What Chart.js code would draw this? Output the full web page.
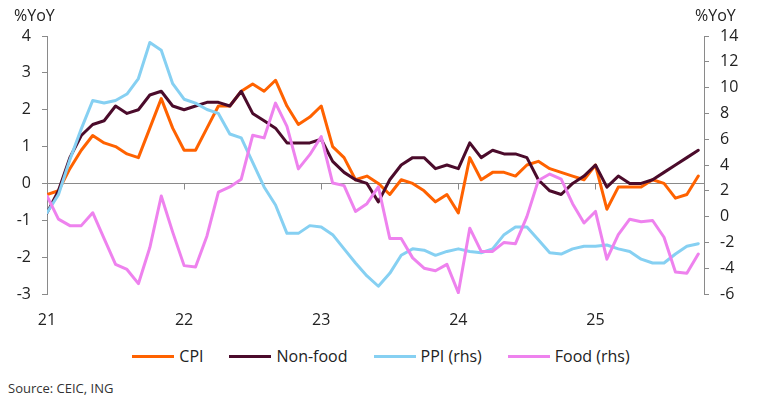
<!DOCTYPE html>
<html>
<head>
<meta charset="utf-8">
<script src="https://cdn.jsdelivr.net/npm/chart.js@4/dist/chart.umd.min.js"></script>
<style>
  html, body { margin: 0; padding: 0; background: #fff; }
  #wrap { position: relative; width: 762px; height: 399px; overflow: hidden; font-family: "Open Sans", sans-serif; color: #222; }
  #c { position: absolute; left: 0; top: 0; }
  .unit { position: absolute; top: 5px; font-size: 16px; line-height: 20px; color: #222; }
  #legend { position: absolute; left: 0; width: 762px; top: 346px; display: flex; justify-content: center; align-items: center; font-size: 16px; line-height: 20px; }
  .item { display: flex; align-items: center; margin: 0 13px; }
  .swatch { width: 42px; height: 3px; margin-right: 5px; }
  #source { position: absolute; left: 8px; top: 379px; font-size: 13px; line-height: 18px; color: #333; }
</style>
</head>
<body>
<div id="wrap">
  <canvas id="c" width="762" height="335"></canvas>
  <div class="unit" style="left:14px;">%YoY</div>
  <div class="unit" style="left:695px;">%YoY</div>
  <div id="legend"></div>
  <div id="source">Source: CEIC, ING</div>
</div>
<script>
// ---- Data (monthly, Jan 2021 - Oct 2025) ----
const months = [
  "2021-01","2021-02","2021-03","2021-04","2021-05","2021-06","2021-07","2021-08","2021-09","2021-10","2021-11","2021-12",
  "2022-01","2022-02","2022-03","2022-04","2022-05","2022-06","2022-07","2022-08","2022-09","2022-10","2022-11","2022-12",
  "2023-01","2023-02","2023-03","2023-04","2023-05","2023-06","2023-07","2023-08","2023-09","2023-10","2023-11","2023-12",
  "2024-01","2024-02","2024-03","2024-04","2024-05","2024-06","2024-07","2024-08","2024-09","2024-10","2024-11","2024-12",
  "2025-01","2025-02","2025-03","2025-04","2025-05","2025-06","2025-07","2025-08","2025-09","2025-10"
];
const yearTickLabels = ["21", "22", "23", "24", "25"];

const cpi = [
  -0.3, -0.2, 0.4, 0.9, 1.3, 1.1, 1.0, 0.8, 0.7, 1.5, 2.3, 1.5,
  0.9, 0.9, 1.5, 2.1, 2.1, 2.5, 2.7, 2.5, 2.8, 2.1, 1.6, 1.8,
  2.1, 1.0, 0.7, 0.1, 0.2, 0.0, -0.3, 0.1, 0.0, -0.2, -0.5, -0.3,
  -0.8, 0.7, 0.1, 0.3, 0.3, 0.2, 0.5, 0.6, 0.4, 0.3, 0.2, 0.1,
  0.5, -0.7, -0.1, -0.1, -0.1, 0.1, 0.0, -0.4, -0.3, 0.2
];
const nonFood = [
  -0.8, -0.2, 0.7, 1.3, 1.6, 1.7, 2.1, 1.9, 2.0, 2.4, 2.5, 2.1,
  2.0, 2.1, 2.2, 2.2, 2.1, 2.5, 1.9, 1.7, 1.5, 1.1, 1.1, 1.1,
  1.2, 0.6, 0.3, 0.1, 0.0, -0.5, 0.1, 0.5, 0.7, 0.7, 0.4, 0.5,
  0.4, 1.1, 0.7, 0.9, 0.8, 0.8, 0.7, 0.1, -0.2, -0.3, 0.0, 0.2,
  0.5, -0.1, 0.2, 0.0, 0.0, 0.1, 0.3, 0.5, 0.7, 0.9
];
const ppi = [
  0.3, 1.7, 4.4, 6.8, 9.0, 8.8, 9.0, 9.5, 10.7, 13.5, 12.9, 10.3,
  9.1, 8.8, 8.3, 8.0, 6.4, 6.1, 4.2, 2.3, 0.9, -1.3, -1.3, -0.7,
  -0.8, -1.4, -2.5, -3.6, -4.6, -5.4, -4.4, -3.0, -2.5, -2.6, -3.0, -2.7,
  -2.5, -2.7, -2.8, -2.5, -1.4, -0.8, -0.8, -1.8, -2.8, -2.9, -2.5, -2.3,
  -2.3, -2.2, -2.5, -2.7, -3.3, -3.6, -3.6, -2.9, -2.3, -2.1
];
const food = [
  1.6, -0.2, -0.7, -0.7, 0.3, -1.7, -3.7, -4.1, -5.2, -2.4, 1.6, -1.2,
  -3.8, -3.9, -1.5, 1.9, 2.3, 2.9, 6.3, 6.1, 8.8, 7.0, 3.7, 4.8,
  6.2, 2.6, 2.4, 0.4, 1.0, 2.3, -1.7, -1.7, -3.2, -4.0, -4.2, -3.7,
  -5.9, -0.9, -2.7, -2.7, -2.0, -2.1, 0.0, 2.8, 3.3, 2.9, 1.0, -0.5,
  0.4, -3.3, -1.4, -0.2, -0.4, -0.3, -1.6, -4.3, -4.4, -2.9
];

const COLORS = { cpi: "#FF6200", nonFood: "#4B0B2B", ppi: "#86D0F2", food: "#EE82EE" };
const AXIS = "#8a8a8a";
const TXT = "#222";

function pts(arr) { return arr.map((v, i) => ({ x: i, y: v })); }

const series = [
  { label: "CPI", data: cpi, color: COLORS.cpi, axis: "y", order: 4 },
  { label: "Non-food", data: nonFood, color: COLORS.nonFood, axis: "y", order: 3 },
  { label: "PPI (rhs)", data: ppi, color: COLORS.ppi, axis: "y2", order: 2 },
  { label: "Food (rhs)", data: food, color: COLORS.food, axis: "y2", order: 1 }
];

// HTML legend
const leg = document.getElementById("legend");
series.forEach(s => {
  const it = document.createElement("div");
  it.className = "item";
  const sw = document.createElement("span");
  sw.className = "swatch";
  sw.style.background = s.color;
  const t = document.createElement("span");
  t.textContent = s.label;
  it.appendChild(sw); it.appendChild(t);
  leg.appendChild(it);
});

const yearTicks = {
  id: "yearTicks",
  beforeDatasetsDraw(chart) {
    const xs = chart.scales.x, ys = chart.scales.y;
    const ctx = chart.ctx;
    const y0 = Math.round(ys.getPixelForValue(0)) + 0.5;
    ctx.save();
    ctx.strokeStyle = AXIS;
    ctx.lineWidth = 1;
    for (let k = 1; k < yearTickLabels.length; k++) {
      const x = Math.round(xs.getPixelForValue(k * 12)) + 0.5;
      ctx.beginPath();
      ctx.moveTo(x, y0);
      ctx.lineTo(x, y0 + 6);
      ctx.stroke();
    }
    ctx.restore();
  }
};

new Chart(document.getElementById("c"), {
  type: "line",
  data: {
    datasets: series.map(s => ({
      label: s.label,
      data: pts(s.data),
      borderColor: s.color,
      backgroundColor: s.color,
      borderWidth: 3,
      pointRadius: 0,
      tension: 0,
      fill: false,
      borderJoinStyle: "round",
      borderCapStyle: "round",
      yAxisID: s.axis,
      order: s.order
    }))
  },
  options: {
    responsive: false,
    devicePixelRatio: 1,
    animation: false,
    layout: { padding: { top: 36, left: 0, right: 0, bottom: 0 } },
    plugins: { legend: { display: false }, tooltip: { enabled: false } },
    scales: {
      x: {
        type: "linear",
        min: 0,
        max: 57.5,
        afterFit(scale) { scale.height = 41; },
        grid: { display: false },
        border: { display: false },
        ticks: {
          stepSize: 12,
          includeBounds: false,
          autoSkip: false,
          maxRotation: 0,
          padding: 9,
          color: TXT,
          font: { family: "Open Sans", size: 16 },
          callback: (v) => (v % 12 === 0 && yearTickLabels[v / 12] !== undefined) ? yearTickLabels[v / 12] : ""
        }
      },
      y: {
        position: "left",
        min: -3,
        max: 4,
        afterFit(scale) { scale.width = 47; },
        grid: {
          drawOnChartArea: true,
          color: (c) => (c.tick && c.tick.value === 0) ? AXIS : "rgba(0,0,0,0)",
          tickColor: AXIS,
          tickLength: 5,
          lineWidth: 1
        },
        border: { display: true, color: AXIS, width: 1 },
        ticks: { stepSize: 1, padding: 11, color: TXT, font: { family: "Open Sans", size: 16 } }
      },
      y2: {
        position: "right",
        min: -6,
        max: 14,
        afterFit(scale) { scale.width = 58; },
        grid: { drawOnChartArea: false, tickColor: AXIS, tickLength: 5, lineWidth: 1 },
        border: { display: true, color: AXIS, width: 1 },
        ticks: { stepSize: 2, padding: 11, color: TXT, font: { family: "Open Sans", size: 16 } }
      }
    }
  },
  plugins: [yearTicks]
});
</script>
</body>
</html>
